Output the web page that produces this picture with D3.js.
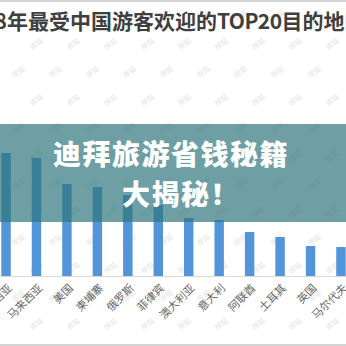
<!DOCTYPE html>
<html>
<head>
<meta charset="utf-8">
<script src="https://cdn.jsdelivr.net/npm/d3@7"></script>
<style>
  html, body { margin: 0; padding: 0; background: #fff; }
  svg { display: block; }
</style>
</head>
<body>
<script>
// Destinations (continuing the ranking) and their relative popularity index
const countries = ["印度尼西亚", "马来西亚", "美国", "柬埔寨", "俄罗斯", "菲律宾",
                   "澳大利亚", "意大利", "阿联酋", "土耳其", "英国", "马尔代夫"];
const values = [123, 118, 92, 89, 81, 71, 58, 56, 44, 39, 30, 29];
const titleParts = ["2018", "年最受中国游客欢迎的", "TOP20", "目的地国家"];
const bannerLines = ["迪拜旅游省钱秘籍", "大揭秘！"];

const W = 346, H = 346;
const svg = d3.select("body").append("svg").attr("width", W).attr("height", H);

svg.append("rect").attr("width", W).attr("height", H).attr("fill", "#fff");

// faint repeated watermark pattern
const wm = svg.append("g").attr("fill", "#e6e6e6")
  .style("font-family", "'Noto Sans CJK SC', sans-serif").style("font-size", "7px");
for (let r = 0; r < 12; r++) {
  for (let c = 0; c < 9; c++) {
    const x = c * 37 + (r % 2 ? 18 : 0) + 14;
    const y = r * 28 + 22;
    if (x > 330 || y > 330) continue;
    wm.append("text").attr("transform", `translate(${x},${y}) rotate(-35)`).text("搜狐");
  }
}

// top / bottom frame lines
svg.append("rect").attr("x", 0).attr("y", 0).attr("width", W).attr("height", 2).attr("fill", "#d4d4d4");
svg.append("rect").attr("x", 0).attr("y", 344).attr("width", W).attr("height", 2).attr("fill", "#d4d4d4");

// title, left part runs off the edge
const title = svg.append("text")
  .attr("y", 29)
  .attr("fill", "#3f3f3f")
  .style("font-family", "'Noto Sans CJK SC', sans-serif")
  .style("font-weight", "bold")
  .style("font-size", "21px");
const tspans = title.selectAll("tspan")
  .data(titleParts)
  .join("tspan")
  .style("letter-spacing", (d, i) => i === 2 ? "-0.6px" : null)
  .text(d => d);
const preW = tspans.nodes()[0].getComputedTextLength();
title.attr("x", 7 - preW);

// chart
const baseY = 276;
const x = d3.scaleBand()
  .domain(countries)
  .range([-9.2, 356.2])
  .paddingInner(0.69)
  .paddingOuter(0.345);
const y = d3.scaleLinear().domain([0, 130]).range([baseY, baseY - 130]);

svg.append("line")
  .attr("x1", 0).attr("x2", W)
  .attr("y1", baseY + 0.5).attr("y2", baseY + 0.5)
  .attr("stroke", "#d9d9d9").attr("stroke-width", 1);

svg.append("g").selectAll("rect")
  .data(countries)
  .join("rect")
  .attr("x", d => x(d))
  .attr("width", x.bandwidth())
  .attr("y", (d, i) => y(values[i]))
  .attr("height", (d, i) => y(0) - y(values[i]))
  .attr("fill", "#5295d8");

svg.append("g").selectAll("text")
  .data(countries)
  .join("text")
  .attr("transform", d => `translate(${x(d) + x.bandwidth() / 2 + 4},${baseY + 10}) rotate(-45)`)
  .attr("text-anchor", "end")
  .attr("dy", "0.35em")
  .attr("fill", "#666")
  .style("font-family", "'Noto Sans CJK SC', sans-serif")
  .style("font-size", "11px")
  .text(d => d);

// translucent banner across the chart
svg.append("rect")
  .attr("x", 0).attr("y", 124)
  .attr("width", W).attr("height", 98)
  .attr("fill", "rgb(48,118,125)")
  .attr("fill-opacity", 0.7);

const banner = svg.append("g")
  .attr("fill", "#fff")
  .style("font-family", "'Noto Sans CJK SC', sans-serif")
  .style("font-weight", "900")
  .style("font-size", "28px")
  .style("letter-spacing", "1.5px");
banner.append("text").attr("x", 53).attr("y", 165).text(bannerLines[0]);
banner.append("text").attr("x", 122).attr("y", 205).text(bannerLines[1]);
</script>
</body>
</html>
